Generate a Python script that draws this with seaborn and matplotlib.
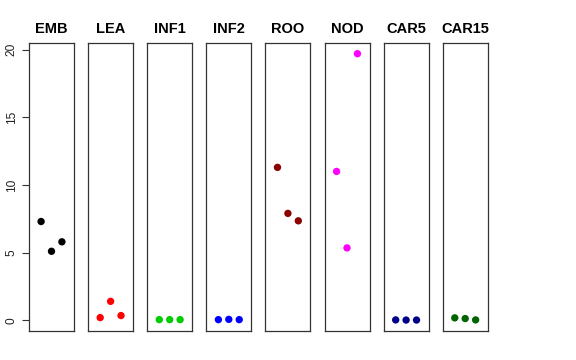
import numpy as np
import pandas as pd
import matplotlib
matplotlib.use("Agg")
import matplotlib.pyplot as plt
import seaborn as sns

# per-tissue values (three replicates each)
tissues = ["EMB", "LEA", "INF1", "INF2", "ROO", "NOD", "CAR5", "CAR15"]
colors = ["black", "red", "#00CD00", "blue", "#8B0000", "magenta", "#00008B", "#006400"]
emb = [7.3, 5.1, 5.8]
lea = [0.2, 1.4, 0.35]
inf1 = [0.05, 0.05, 0.05]
inf2 = [0.05, 0.07, 0.05]
roo = [11.3, 7.9, 7.35]
nod = [11.0, 5.35, 19.7]
car5 = [0.03, 0.02, 0.02]
car15 = [0.18, 0.13, 0.03]
replicate = [1, 2, 3]
values = [emb, lea, inf1, inf2, roo, nod, car5, car15]

sns.set_style("white")
plt.rcParams["font.family"] = ["Liberation Sans", "DejaVu Sans"]

W, H = 576, 360
fig = plt.figure(figsize=(W / 100, H / 100), dpi=100)

left0, pw, step = 29, 45, 59.1
top, bottom = 43, 331
ymin, ymax = -0.79, 20.49

for i, (name, col, vals) in enumerate(zip(tissues, colors, values)):
    x0 = left0 + i * step
    ax = fig.add_axes([x0 / W, (H - bottom) / H, pw / W, (bottom - top) / H])
    df = pd.DataFrame({"rep": replicate, "value": vals})
    sns.scatterplot(data=df, x="rep", y="value", color=col, s=28,
                    edgecolor="none", ax=ax)
    ax.set_xlim(-0.16, 4.16)
    ax.set_ylim(ymin, ymax)
    ax.set_xlabel(""); ax.set_ylabel("")
    ax.set_xticks([])
    ax.set_title(name, fontsize=10.5, fontweight="bold", pad=7, color="black")
    for sp in ax.spines.values():
        sp.set_visible(True); sp.set_color("#333333"); sp.set_linewidth(0.9)
    if i == 0:
        ax.set_yticks([0, 5, 10, 15, 20])
        ax.tick_params(axis="y", left=True, length=5, width=0.8, color="#333333",
                       labelsize=8.6, pad=3, labelcolor="#222222")
        for lab in ax.get_yticklabels():
            lab.set_rotation(90); lab.set_va("center")
    else:
        ax.set_yticks([])

fig.savefig("out.png", dpi=100)
